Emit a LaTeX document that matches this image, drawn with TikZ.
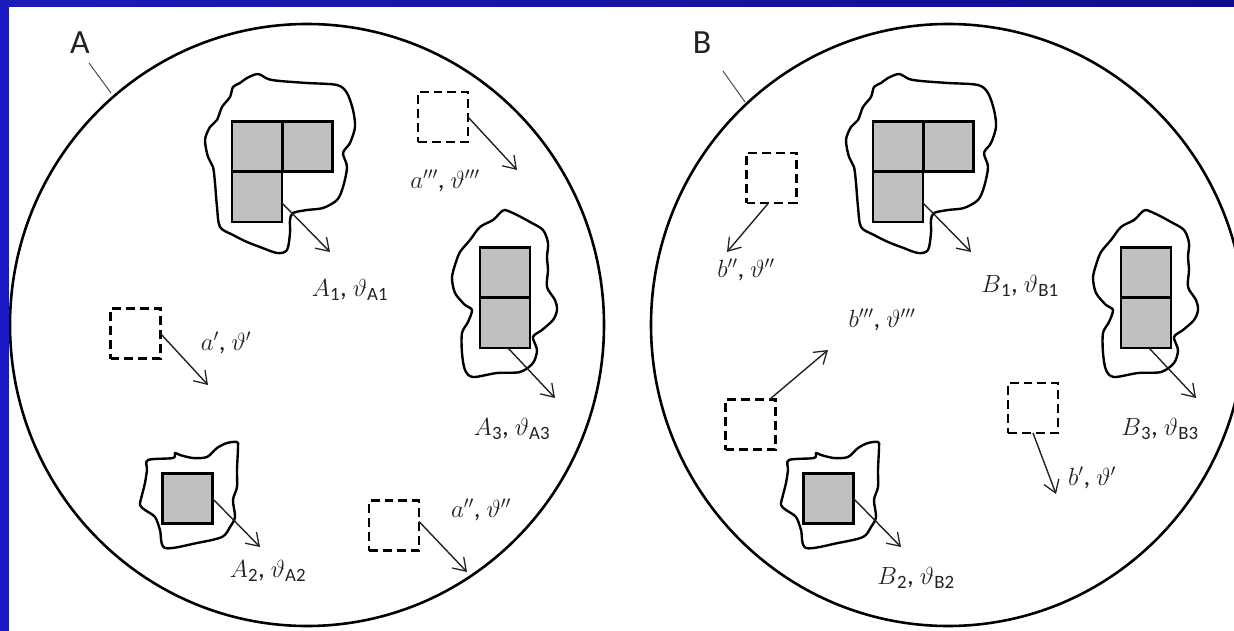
\documentclass[tikz,border=0pt]{standalone}
\usepackage{fontspec}
\setmainfont{Carlito}
\usetikzlibrary{arrows.meta}
\definecolor{sqfill}{HTML}{C0C0C0}
\definecolor{slideblue}{HTML}{1A1AC4}
\definecolor{topblueL}{HTML}{1C1CB8}
\definecolor{topblueR}{HTML}{0E0E8C}
\definecolor{ink}{HTML}{222222}
\tikzset{
  blob/.style={draw=black,line width=2.4pt,line join=round},
  sq/.style={draw=black,line width=2.6pt,fill=sqfill,minimum size=50bp,inner sep=0pt,outer sep=0pt},
  dsq/.style={draw=black,line width=2.6pt,dash pattern=on 9pt off 5pt,minimum size=50bp,inner sep=0pt,outer sep=0pt},
  arr/.style={draw=ink,line width=1.4pt,-{Straight Barb[length=12pt,width=16pt,line width=1.3pt]}},
  lbl/.style={font=\fontsize{27}{30}\selectfont,text=ink,inner sep=0pt},
  big/.style={font=\fontsize{34}{36}\selectfont,text=ink,inner sep=0pt},
  leader/.style={draw=black!70,line width=1pt},
  ring/.style={draw=black,line width=2.6pt}
}
\newcommand{\clusterOne}[1]{%
  \draw[blob] plot[smooth cycle,tension=0.5] coordinates {(247,78) (258,74) (268,79) (280,81) (307,83) (337,85) (347,93) (353,110) (355,127) (350,143) (343,153) (347,167) (343,187) (337,200) (323,208) (307,210) (293,213) (290,220) (290,233) (287,250) (277,253) (260,247) (247,242) (233,235) (220,227) (217,207) (215,183) (213,167) (208,157) (205,140) (210,127) (217,120) (222,107) (230,97) (233,87) (240,83)};
  \node[sq] (#1s1) at (257,146.5) {};
  \node[sq] (#1s2) at (307.5,146.5) {};
  \node[sq] (#1s3) at (257,197) {};
  \coordinate (#1t) at (330,252);
  \draw[arr] ([yshift=-6bp]#1s3.east) -- (#1t);
}
\newcommand{\clusterTwo}[1]{%
  \draw[blob] plot[smooth cycle,tension=0.5] coordinates {(148,460) (173,458) (175,453) (180,455) (193,458) (207,457) (217,448) (227,443) (237,442) (238,447) (237,470) (237,487) (233,500) (235,517) (230,527) (222,537) (197,543) (165,548) (160,530) (155,517) (145,510) (140,505) (142,495) (145,483) (147,470)};
  \node[sq] (#1s1) at (187.5,498.5) {};
  \coordinate (#1t) at (260,547);
  \draw[arr] (#1s1.east) -- (#1t);
}
\newcommand{\clusterThree}[1]{%
  \draw[blob] plot[smooth cycle,tension=0.5] coordinates {(505,210) (517,215) (530,222) (543,230) (548,243) (547,257) (548,270) (547,287) (555,300) (557,310) (553,320) (542,330) (533,337) (537,350) (533,363) (520,372) (497,373) (473,377) (465,370) (462,353) (462,333) (468,322) (472,310) (465,305) (455,293) (452,278) (455,265) (460,252) (470,240) (480,227) (493,220) (500,213)};
  \node[sq] (#1s1) at (505,272.5) {};
  \node[sq] (#1s2) at (505,323) {};
  \coordinate (#1t) at (555,398);
  \draw[arr] ([xshift=3bp]#1s2.south) -- (#1t);
}
\begin{document}
\begin{tikzpicture}[x=1bp,y=-1bp]
\useasboundingbox (0,0) rectangle (1234,631);
\fill[slideblue] (0,0) rectangle (1234,631);
\shade[left color=topblueL,right color=topblueR] (0,0) rectangle (1234,7);
\fill[white] (9,7) rectangle (1234,631);
\begin{scope}
\clip (9,7) rectangle (1234,631);
\draw[ring] (307,325) ellipse[x radius=297bp,y radius=301bp];
\draw[ring] (948,325) ellipse[x radius=297bp,y radius=301bp];

% ---------- A ----------
\node[big] (labA) at (80,43) {A};
\coordinate (labAend) at (111,93);
\draw[leader] (89,63) -- (labAend);

\clusterOne{a1}
\clusterTwo{a2}
\clusterThree{a3}
\node[lbl] (la1) at (350,290) {\(A\)\textsubscript{1}, \(\vartheta\)\textsubscript{A1}};
\node[lbl] (la2) at (268,571) {\(A\)\textsubscript{2}, \(\vartheta\)\textsubscript{A2}};
\node[lbl] (la3) at (512,429) {\(A\)\textsubscript{3}, \(\vartheta\)\textsubscript{A3}};

\node[dsq] (d3) at (443,117) {};
\coordinate (d3t) at (517,170);
\draw[arr] (d3.east) -- (d3t);
\node[lbl] (ld3) at (445,181) {\(a'''\), \(\vartheta'''\)};

\node[dsq] (d1) at (135.5,333.5) {};
\coordinate (d1t) at (208,385);
\draw[arr] (d1.east) -- (d1t);
\node[lbl] (ld1) at (226,343) {\(a'\), \(\vartheta'\)};

\node[dsq] (d2) at (394,525.5) {};
\coordinate (d2t) at (467,572);
\draw[arr] ([yshift=4bp]d2.east) -- (d2t);
\node[lbl] (ld2) at (481,510) {\(a''\), \(\vartheta''\)};

% ---------- B ----------
\node[big] (labB) at (702,43) {B};
\coordinate (labBend) at (745,102);
\draw[leader] (723,71) -- (labBend);

\begin{scope}[xshift=641bp]
\clusterOne{b1}
\clusterTwo{b2}
\clusterThree{b3}
\end{scope}
\node[lbl] (lb1) at (1020,286) {\(B\)\textsubscript{1}, \(\vartheta\)\textsubscript{B1}};
\node[lbl] (lb2) at (916,578) {\(B\)\textsubscript{2}, \(\vartheta\)\textsubscript{B2}};
\node[lbl] (lb3) at (1160,429) {\(B\)\textsubscript{3}, \(\vartheta\)\textsubscript{B3}};

\node[dsq] (e2) at (771.5,178) {};
\coordinate (e2t) at (727,252);
\draw[arr] ([xshift=-3bp]e2.south) -- (e2t);
\node[lbl] (le2) at (746,270) {\(b''\), \(\vartheta''\)};

\node[dsq] (e3) at (750.5,424.5) {};
\coordinate (e3t) at (828,350);
\draw[arr] ([xshift=-6bp]e3.north east) -- (e3t);
\node[lbl] (le3) at (882,320) {\(b'''\), \(\vartheta'''\)};

\node[dsq] (e1) at (1033,408) {};
\coordinate (e1t) at (1056,494);
\draw[arr] (e1.south) -- (e1t);
\node[lbl] (le1) at (1092,478) {\(b'\), \(\vartheta'\)};
\end{scope}
\end{tikzpicture}
\end{document}
